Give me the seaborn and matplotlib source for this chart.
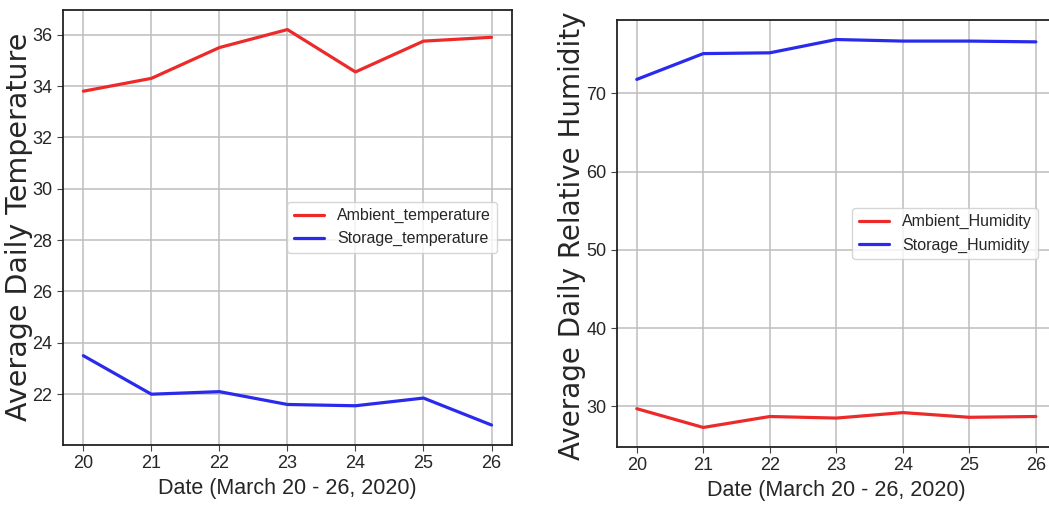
import matplotlib
matplotlib.use("Agg")
import matplotlib.pyplot as plt
import seaborn as sns
import pandas as pd

days = [20, 21, 22, 23, 24, 25, 26]
ambient_temp = [33.8, 34.3, 35.5, 36.2, 34.55, 35.75, 35.9]
storage_temp = [23.5, 22.0, 22.1, 21.6, 21.55, 21.85, 20.8]
ambient_hum = [29.7, 27.3, 28.7, 28.5, 29.2, 28.6, 28.7]
storage_hum = [71.8, 75.1, 75.2, 76.9, 76.7, 76.7, 76.6]

sns.set_style("whitegrid", {"axes.edgecolor": "#222222", "grid.color": "#bdbdbd",
                            "xtick.bottom": True, "ytick.left": True})
narrow = ["Liberation Sans Narrow", "Liberation Sans", "DejaVu Sans"]
plt.rcParams["font.family"] = ["DejaVu Sans"]

fig = plt.figure(figsize=(10.49, 5.16), dpi=100)
ax1 = fig.add_axes([0.060, 0.138, 0.428, 0.843])
ax2 = fig.add_axes([0.588, 0.134, 0.4185, 0.827])

t = pd.DataFrame({"day": days * 2,
                  "value": ambient_temp + storage_temp,
                  "series": ["Ambient_temperature"] * 7 + ["Storage_temperature"] * 7})
h = pd.DataFrame({"day": days * 2,
                  "value": ambient_hum + storage_hum,
                  "series": ["Ambient_Humidity"] * 7 + ["Storage_Humidity"] * 7})

pal1 = {"Ambient_temperature": "#ec2a2a", "Storage_temperature": "#2a2aec"}
pal2 = {"Ambient_Humidity": "#ec2a2a", "Storage_Humidity": "#2a2aec"}

sns.lineplot(data=t, x="day", y="value", hue="series", palette=pal1, ax=ax1, linewidth=2.3)
sns.lineplot(data=h, x="day", y="value", hue="series", palette=pal2, ax=ax2, linewidth=2.3)

ax1.set_yticks([22, 24, 26, 28, 30, 32, 34, 36])
ax2.set_yticks([30, 40, 50, 60, 70])

for ax in (ax1, ax2):
    ax.set_xticks(days)
    for lab in ax.get_xticklabels() + ax.get_yticklabels():
        lab.set_family(narrow)
        lab.set_fontsize(13)
    ax.set_xlabel("Date (March 20 - 26, 2020)", fontsize=15.5, family=narrow)
    for s in ax.spines.values():
        s.set_linewidth(1.3)
    ax.tick_params(length=4, color="#444444")
    ax.grid(linewidth=1.1)

ax1.set_ylabel("Average Daily Temperature", fontsize=20.5)
ax2.set_ylabel("Average Daily Relative Humidity", fontsize=20)
ax1.yaxis.set_label_coords(-0.067, 0.5)
ax2.yaxis.set_label_coords(-0.070, 0.495)

ax1.legend(title=None, loc="center right", bbox_to_anchor=(0.985, 0.5),
           prop={"family": narrow, "size": 11.5}, frameon=True, handlelength=1.9)
ax2.legend(title=None, loc="center right", bbox_to_anchor=(0.978, 0.50),
           prop={"family": narrow, "size": 11.5}, frameon=True, handlelength=1.9)

fig.savefig("out.png", dpi=100)
